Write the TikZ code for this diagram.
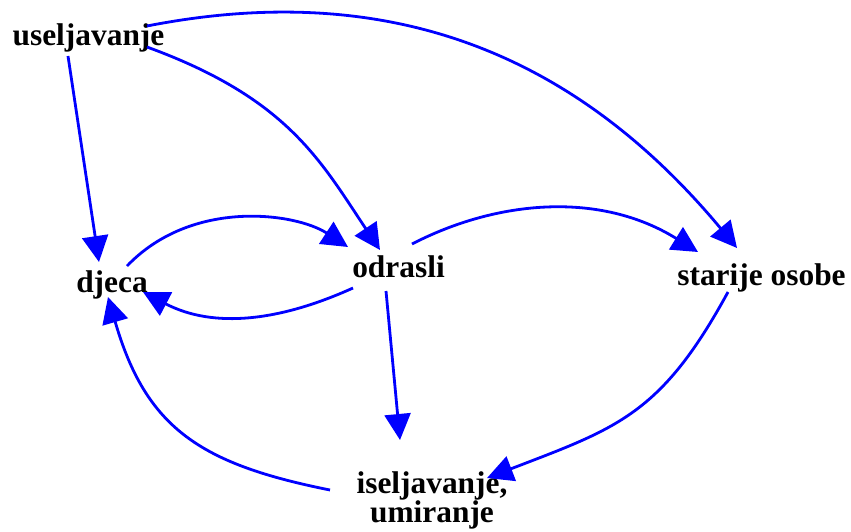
\documentclass[tikz,border=0pt]{standalone}
\usepackage{fontspec}
\setmainfont{Liberation Serif}
\usetikzlibrary{arrows.meta}
\definecolor{linkblue}{RGB}{0,0,255}
\tikzset{
  lbl/.style={inner sep=0pt, font=\bfseries\fontsize{31.4}{29}\selectfont},
  var/.style={lbl, text height=21.5pt, text depth=6.5pt},
  link/.style={draw=linkblue, line width=2.8pt,
    -{Triangle[length=26pt,width=26pt]}},
}
\begin{document}
\begin{tikzpicture}[x=1pt,y=-1pt]
\useasboundingbox (0,0) rectangle (851,531);

% stocks and flows
\node[var] (u) at (88.5,37.5)  {useljavanje};
\node[var] (d) at (112,284.5)  {djeca};
\node[var] (o) at (398.5,269.5) {odrasli};
\node[var] (s) at (761.5,277.5) {starije osobe};
\node[lbl, align=center] (i) at (432,500) {iseljavanje,\\umiranje};

% links
\draw[link] ([shift={(-20.5,18.5)}]u.center) -- ([shift={(-13,-22.5)}]d.center);
\draw[link] ([shift={(58.5,9.5)}]u.center)
  .. controls +(140,51) and +(-60,-90) .. ([shift={(-18.5,-19.5)}]o.center);
\draw[link] ([shift={(58.5,-11.5)}]u.center)
  .. controls +(245,-48) and +(-160,-192) .. ([shift={(-24.5,-29.5)}]s.center);
\draw[link] ([shift={(15,-18.5)}]d.center)
  .. controls +(65,-68) and +(-52,-34) .. ([shift={(-50.5,-22.5)}]o.center);
\draw[link] ([shift={(-45.5,18.5)}]o.center)
  .. controls +(-73,33) and +(71,37) .. ([shift={(31,7.5)}]d.center);
\draw[link] ([shift={(13.5,-25.5)}]o.center)
  .. controls +(85,-44) and +(-98,-61) .. ([shift={(-63.5,-25.5)}]s.center);
\draw[link] ([shift={(-12.5,21.5)}]o.center) -- ([shift={(-32,-60)}]i.center);
\draw[link] ([shift={(-33.5,14.5)}]s.center)
  .. controls +(-67,123) and +(130,-50) .. ([shift={(55,-22)}]i.center);
\draw[link] ([shift={(-102,-10)}]i.center)
  .. controls +(-130,-26) and +(38,131) .. ([shift={(-4,12.5)}]d.center);
\end{tikzpicture}
\end{document}
